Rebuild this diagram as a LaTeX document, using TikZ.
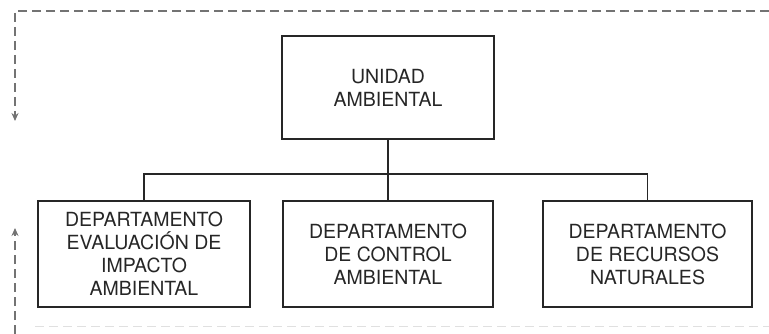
\documentclass[tikz,border=0pt]{standalone}
\usepackage{fontspec}
\setmainfont{TeX Gyre Heros}
\usetikzlibrary{arrows.meta}
\begin{document}
\begin{tikzpicture}[x=1pt,y=-1pt,
  box/.style={draw=black!85, line width=1.2pt, rectangle, align=center,
    font=\fontsize{19.5}{23}\selectfont, text=black!85, inner sep=0pt},
  link/.style={draw=black!85, line width=1.2pt},
  frame/.style={draw=black!55, line width=1.1pt, dash pattern=on 9pt off 5pt},
  faint/.style={draw=black!12, line width=0.9pt, dash pattern=on 9pt off 5pt},
  tip/.style={-{Stealth[length=8pt,width=7pt]}}
]
\useasboundingbox (0,0) rectangle (769,334);
\node[box, minimum width=212pt, minimum height=103pt] (top) at (388,87.5) {UNIDAD\\AMBIENTAL};
\node[box, minimum width=212pt, minimum height=106pt] (dl) at (144,254) {DEPARTAMENTO\\EVALUACIÓN DE\\IMPACTO\\AMBIENTAL};
\node[box, minimum width=210pt, minimum height=106pt] (dm) at (388,254) {DEPARTAMENTO\\DE CONTROL\\AMBIENTAL};
\node[box, minimum width=209pt, minimum height=106pt] (dr) at (647.5,254) {DEPARTAMENTO\\DE RECURSOS\\NATURALES};
\coordinate (bar) at (388,174);
\draw[link] (top.south) -- (dm.north);
\draw[link] (dl.north) |- (bar) -| (dr.north);
% dashed feedback frame
\coordinate (fr) at (769,11);
\coordinate (fc) at (15,11);
\coordinate (fd) at (15,121);
\coordinate (fb) at (15,334);
\coordinate (fu) at (15,228);
\coordinate (gl) at (35,326);
\coordinate (gr) at (769,326);
\draw[frame, tip] (fr) -- (fc) -- (fd);
\draw[frame, tip] (fb) -- (fu);
\draw[faint] (gl) -- (gr);
\end{tikzpicture}
\end{document}
